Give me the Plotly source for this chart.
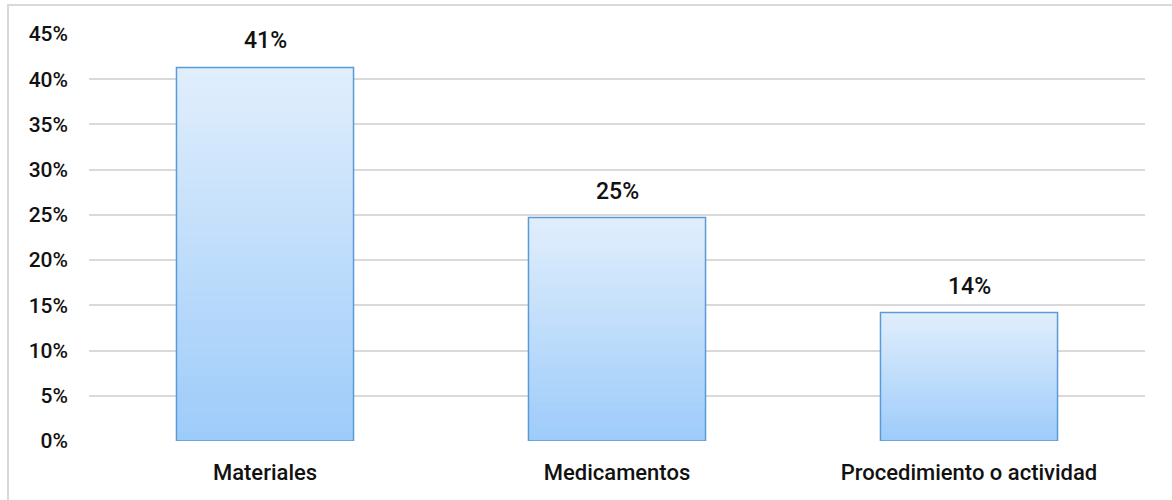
import plotly.graph_objects as go

# Data
categories = ["Materiales", "Medicamentos", "Procedimiento o actividad"]
shares = [0.413, 0.247, 0.142]
y_ticks = [0, 0.05, 0.10, 0.15, 0.20, 0.25, 0.30, 0.35, 0.40, 0.45]

# Styling
FONT = "Roboto"
TEXT_COLOR = "#111111"
GRID_COLOR = "#d9d9d9"
EDGE_COLOR = "#5b9bd5"
BOTTOM_RGB = (158, 204, 250)
TOP_RGB = (224, 238, 252)
N_STEPS = 40
TICK_FONT = dict(family=FONT, size=21, color=TEXT_COLOR, weight=500)
CAT_FONT = dict(family=FONT, size=22, color=TEXT_COLOR, weight=500)
VALUE_FONT = dict(family=FONT, size=23, color=TEXT_COLOR, weight=500)


def blend(t):
    r, g, b = (round(BOTTOM_RGB[i] + (TOP_RGB[i] - BOTTOM_RGB[i]) * t) for i in range(3))
    return f"rgb({r},{g},{b})"


fig = go.Figure()

# Vertical gradient inside each bar: overlapping slices, bottom to top
for k in range(N_STEPS):
    step = [v / N_STEPS for v in shares]
    fig.add_trace(go.Bar(
        x=categories,
        y=[s * (1.6 if k < N_STEPS - 1 else 1.0) for s in step],
        base=[v * k / N_STEPS for v in shares],
        marker=dict(color=blend(k / (N_STEPS - 1)), line=dict(width=0)),
        hoverinfo="skip",
        showlegend=False,
    ))

# Bar outlines
fig.add_trace(go.Bar(
    x=categories,
    y=shares,
    marker=dict(color="rgba(0,0,0,0)", line=dict(color=EDGE_COLOR, width=1.5)),
    hovertemplate="%{x}: %{y:.0%}<extra></extra>",
    showlegend=False,
))

# Value labels above the bars
for cat, v in zip(categories, shares):
    fig.add_annotation(
        x=cat, y=v, text=f"{v:.0%}", showarrow=False,
        yanchor="bottom", yshift=11,
        font=VALUE_FONT,
    )

# Light frame around the whole chart
fig.add_shape(
    type="rect", xref="paper", yref="paper",
    x0=-0.0767, x1=1.2, y0=-0.5, y1=1.0713,
    line=dict(color=GRID_COLOR, width=2), fillcolor="rgba(0,0,0,0)",
    layer="below",
)

fig.update_layout(
    width=1172, height=500,
    margin=dict(l=89, r=27, t=34, b=59),
    paper_bgcolor="white", plot_bgcolor="white",
    barmode="overlay", bargap=0.497,
    font=TICK_FONT,
    showlegend=False,
)
fig.update_xaxes(
    showgrid=False, showline=False, ticks="",
    ticklabelstandoff=16,
    tickfont=CAT_FONT,
)
fig.update_yaxes(
    range=[0, 0.45], tickvals=y_ticks, tickformat=".0%",
    showgrid=True, gridcolor=GRID_COLOR, gridwidth=1.5,
    zeroline=False, showline=False, ticks="",
    ticklabelstandoff=20,
    tickfont=TICK_FONT,
)

fig.write_html("out.html")
